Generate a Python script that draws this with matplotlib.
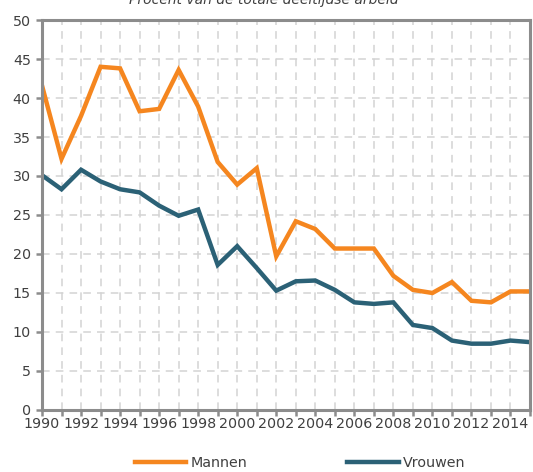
import numpy as np
import matplotlib
matplotlib.use("Agg")
import matplotlib.pyplot as plt

# data
Years = list(range(1990, 2016))
Mannen = [41.6, 32.2, 37.7, 44.0, 43.8, 38.3, 38.6, 43.6, 38.9, 31.8, 28.9, 31.0,
          19.7, 24.2, 23.2, 20.7, 20.7, 20.7, 17.2, 15.4, 15.0, 16.4, 14.0, 13.8, 15.2, 15.2]
Vrouwen = [30.1, 28.3, 30.8, 29.3, 28.3, 27.9, 26.2, 24.9, 25.7, 18.6, 21.0, 18.2,
           15.3, 16.5, 16.6, 15.4, 13.8, 13.6, 13.8, 10.9, 10.5, 8.9, 8.5, 8.5, 8.9, 8.7]
YearLabels = [str(y) if (y - 1990) % 2 == 0 else "" for y in Years]
Title = "Procent van de totale deeltijdse arbeid"

ColM = "#F5861F"
ColV = "#2B6176"
ColFrame = "#8C8C8C"
ColGrid = "#D3D3D3"
ColText = "#404040"

plt.rcParams['font.family'] = ['DejaVu Sans']

fig = plt.figure(figsize=(5.33, 4.72), dpi=100)
ax = fig.add_axes([0.0788, 0.1314, 0.9156, 0.8262])

ax.plot(Years, Mannen, "-", color=ColM, lw=3.2, label="Mannen", solid_joinstyle="miter")
ax.plot(Years, Vrouwen, "-", color=ColV, lw=3.2, label="Vrouwen", solid_joinstyle="miter")

ax.set_xlim(1990, 2015)
ax.set_ylim(0, 50)
ax.set_xticks(Years)
ax.set_xticklabels(YearLabels)
ax.set_yticks(np.arange(0, 51, 5))

ax.grid(True, color=ColGrid, lw=1.1, ls=(0, (5, 4)))
ax.set_axisbelow(True)
for s in ax.spines.values():
    s.set_color(ColFrame)
    s.set_linewidth(2.2)
ax.tick_params(axis="both", colors=ColFrame, width=1.8, length=4, direction="out",
               labelcolor=ColText, labelsize=10.3, pad=1)
ax.tick_params(axis="y", pad=4)

fig.text(0.495, 1.0, Title, ha="center", va="center", style="italic",
         fontsize=10, color=ColText)

leg = fig.legend(loc="lower center", bbox_to_anchor=(0.563, -0.022), ncol=2,
                 frameon=False, handlelength=3.6, columnspacing=7.0,
                 handletextpad=0.3, fontsize=10.3)
for t in leg.get_texts():
    t.set_color(ColText)

fig.savefig("out.png", dpi=100)
